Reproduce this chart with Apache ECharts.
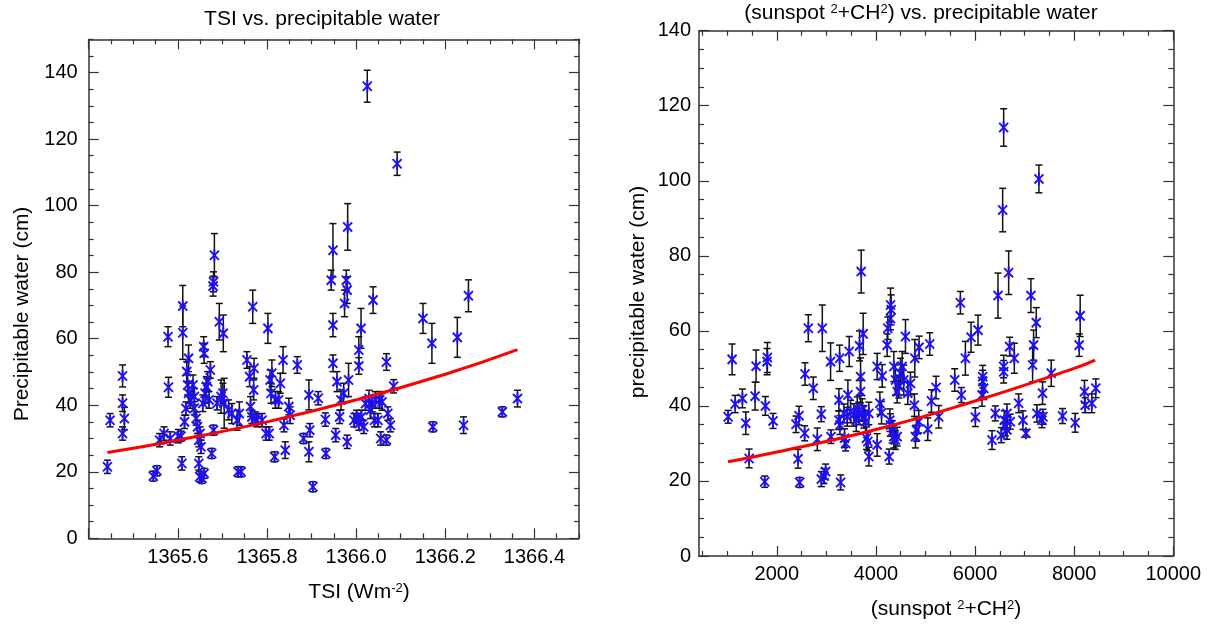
<!DOCTYPE html>
<html><head><meta charset="utf-8">
<script src="https://cdn.jsdelivr.net/npm/echarts@6/dist/echarts.min.js"></script>
<style>html,body{margin:0;padding:0;background:#fff}#c{width:1209px;height:626px}</style>
</head><body><div id="c"></div>
<script>
// ---------- data: [x, precipitable water, error half-length] ----------
const tsiPoints = [
[1365.442,21.5,2],[1365.448,35.5,2],[1365.476,48.8,3.3],[1365.476,40.6,2.5],[1365.480,36.0,3.4],[1365.476,31.5,2],
[1365.545,18.7,1.5],[1365.553,20.3,1.5],[1365.559,29.5,2],[1365.569,31.5,2],[1365.578,60.6,3],[1365.579,45.4,3],
[1365.583,30.0,2],[1365.601,30.7,2],[1365.607,30.7,1.5],[1365.609,22.5,2],[1365.611,69.8,6.2],[1365.611,61.8,8],
[1365.615,35.0,2],[1365.618,39.0,2],[1365.620,50.1,3],[1365.624,54.1,4],[1365.622,46.1,3],[1365.624,43.6,3],
[1365.628,41.6,2.5],[1365.634,46.1,3],[1365.637,42.6,2.5],[1365.637,39.1,2],[1365.641,36.0,2],[1365.644,33.5,2],
[1365.647,29.5,2],[1365.650,31.5,2],[1365.652,27.5,2],[1365.647,22.5,2],[1365.649,18.5,1.5],[1365.654,18.0,1.5],
[1365.659,19.5,1.5],[1365.658,57.6,3],[1365.659,55.6,3],[1365.656,40.6,2.5],[1365.661,43.6,3],[1365.664,45.6,3],
[1365.667,47.1,3],[1365.670,41.6,2.5],[1365.673,50.6,2.5],[1365.676,25.5,1.5],[1365.680,32.5,1.5],[1365.679,75.8,3],
[1365.682,85.1,6.5],[1365.680,77.1,3],[1365.688,40.6,2],[1365.693,65.1,5.5],[1365.697,42.6,5],[1365.701,43.6,3],
[1365.702,61.6,5.5],[1365.704,40.6,7.5],[1365.714,38.6,3],[1365.721,37.5,3],[1365.733,35.5,3],[1365.738,37.5,3.5],
[1365.735,20.0,1.5],[1365.742,20.0,1.5],[1365.755,53.6,2.5],[1365.761,48.6,3],[1365.763,39.6,3],[1365.766,36.5,2],
[1365.768,69.6,5],[1365.770,44.6,3],[1365.771,51.1,3],[1365.774,36.0,2],[1365.777,35.5,2],[1365.789,35.5,2],
[1365.798,31.5,2],[1365.802,63.1,4.5],[1365.805,31.5,2],[1365.807,47.6,3],[1365.809,43.6,3],[1365.811,49.6,4],
[1365.817,24.5,1.5],[1365.819,41.6,2.5],[1365.826,41.6,2.5],[1365.830,46.6,3],[1365.836,53.6,4],[1365.838,34.0,2],
[1365.841,26.5,2.5],[1365.849,39.6,2.5],[1365.852,37.0,2.5],[1365.868,52.1,2.5],[1365.882,30.0,1.5],[1365.894,43.1,4.5],
[1365.896,32.5,2],[1365.894,26.0,3],[1365.903,15.5,1.5],[1365.915,42.1,2],[1365.931,35.7,2],[1365.932,25.5,1.5],
[1365.948,86.6,8],[1365.944,77.6,3],[1365.948,64.1,3.5],[1365.948,52.6,2.5],[1365.954,31.0,2],[1365.957,47.1,3],
[1365.963,36.5,2],[1365.966,41.6,3],[1365.972,43.6,3],[1365.974,70.6,4],[1365.978,77.6,3],[1365.980,74.6,4],
[1365.981,93.6,7],[1365.980,29.0,2],[1365.983,47.6,5],
[1365.995,35.5,2],[1366.001,36.5,2],[1366.006,34.5,2],[1366.012,36.5,2],[1366.017,33.5,2],[1366.021,40.5,2],
[1366.029,42.0,2.5],[1366.032,38.5,2.5],[1366.036,40.5,2.5],[1366.041,35.5,2],[1366.043,41.6,2.5],[1366.049,35.5,2],
[1366.053,41.6,2.5],[1366.055,30.0,2],[1366.058,41.0,2.5],[1366.068,29.5,1.5],[1366.071,37.5,2],[1366.077,34.0,2],
[1366.011,63.1,6],[1366.006,56.6,4],[1366.006,51.8,2.5],[1366.025,135.9,4.8],[1366.038,71.6,4],[1366.068,53.0,2.5],
[1366.084,45.7,2],[1366.092,112.6,3.5],[1366.150,66.1,4.5],[1366.170,58.6,6],[1366.172,33.5,1.5],[1366.227,60.4,6],
[1366.241,34.0,2.5],[1366.252,72.9,4.8],[1366.328,38.0,1.5],[1366.362,42.0,2.5]
];
const tsiFit = [[1365.442,25.8],[1365.6,29.5],[1365.8,35.0],[1366.0,41.6],[1366.2,49.3],[1366.362,56.7]];

const ssqPoints = [
[1018,37.1,1.7],[1098,52.4,4.1],[1159,40.5,2.3],[1306,42.0,2.5],[1374,35.4,3],[1441,26.0,2.5],
[1562,42.6,3.7],[1582,50.6,4.3],[1756,19.8,1.5],[1770,40.0,2.5],[1810,52.9,4],[1803,51.8,3.5],
[1924,36.0,2],[2387,35.1,2.2],[2428,25.9,2.5],[2448,37.4,2.5],[2461,19.6,1.3],[2562,32.7,2],
[2569,48.5,3],[2636,60.7,3.6],[2736,44.7,3],[2817,31.1,3],[2898,37.8,2],[2898,20.5,2],
[2918,60.7,6.2],[2951,21.3,2],[2985,22.5,2],[3092,31.8,1.8],[3085,51.8,5],[3287,19.6,2],
[3267,52.7,3.5],[3253,41.6,3],[3253,36.2,2.5],[3273,34.9,2.5],[3367,31.4,2.5],[3388,30.0,2],
[3461,54.5,4],[3434,42.9,4],[3354,38.0,2.5],[3421,37.1,2.5],[3488,38.5,3],[3555,37.6,3],
[3602,36.2,3],[3623,39.4,3],[3656,38.0,3],[3723,38.9,3],[3757,37.1,3],[3790,35.8,3],
[3857,38.0,3],[3669,56.0,4],[3703,75.8,5.7],[3690,47.8,5],[3690,43.8,3],[3743,59.2,5.5],
[3810,31.4,3],[3837,30.5,2.5],[3857,26.5,2.5],[4025,29.6,3],[4025,50.5,3.5],[4126,48.0,3],
[4079,40.7,3],[4113,38.2,3],[4227,56.2,3],[4240,60.7,3],[4294,63.3,3],[4294,66.9,4.5],
[4307,65.6,4],[4267,26.5,2],[4280,36.2,3],[4294,34.9,3],[4327,33.1,3],[4361,31.8,3],
[4394,30.9,2.5],[4428,31.8,2.5],[4361,50.5,4],[4394,46.9,4],[4428,43.8,3],[4462,45.1,3],
[4495,48.7,4],[4529,50.5,4],[4562,46.9,4],[4596,58.5,4.5],[4643,43.4,3],[4697,46.0,3],
[4777,40.2,3],[4784,52.7,5],[4797,31.8,3],[4817,33.6,3],[4871,55.6,3],[4864,35.8,3],
[5046,33.8,3],[5086,56.5,3],[5120,41.3,3],[5213,44.9,3],[5267,37.1,3],
[5590,46.9,3],[5724,42.9,2],[5704,67.5,3],[5805,52.7,4.5],[5919,58.3,4],[6006,37.0,2.5],
[6060,60.2,4],[6141,42.9,3],[6154,46.5,3],[6154,47.8,3],[6174,44.7,3],[6342,30.9,2.5],
[6409,38.0,2],[6463,69.4,6],[6530,32.2,2],[6557,92.2,5.8],[6577,114.2,5],[6577,50.5,3],
[6577,49.1,3],[6590,36.2,2.5],[6611,34.5,2.5],[6644,38.0,2.5],[6644,33.6,2.5],[6678,75.5,5.8],
[6698,55.8,2.5],[6792,52.7,4],[6711,35.8,2],[6879,40.7,2.5],[6966,36.2,2.5],[7027,32.7,1],
[7127,69.4,4.5],[7161,50.9,4.5],[7181,56.2,4],[7235,62.2,4],[7248,38.0,2.3],[7289,100.5,3.7],
[7349,36.2,2],[7369,37.1,2],[7362,43.4,3],[7537,48.7,3.5],[7765,37.3,2],[8020,35.5,2.5],
[8121,64.0,5.5],[8101,56.2,3],[8208,43.8,3],[8222,40.2,2],[8356,40.7,2.5],[8436,44.7,2.5]
];
const ssqFit = [[1016,25.1],[2000,27.7],[4000,33.7],[6000,41.3],[8000,50.0],[8423,52.2]];

// ---------- ticks ----------
const tsiXLabels = [1365.6,1365.8,1366.0,1366.2,1366.4];
const tsiXMajor = [1365.4,1365.6,1365.8,1366.0,1366.2,1366.4];
const pwLabels = [0,20,40,60,80,100,120,140];
const ssqXLabels = [2000,4000,6000,8000,10000];

function steps(from, to, step, skipEvery) {
  const out = [];
  for (let i = 0; ; i++) {
    const v = +(from + i * step).toFixed(4);
    if (v > to + 1e-9) break;
    if (skipEvery && i % skipEvery === 0) continue;
    out.push(v);
  }
  return out;
}
const tsiXMinor = steps(1365.4, 1366.5, 0.05, 4);
const leftYMinor = steps(0, 150, 5, 4);
const rightYMinor = steps(0, 140, 5, 4);
const ssqXMinor = steps(0, 10000, 500, 4).filter(v => v > 430);

const FONT = '"Liberation Sans", Arial, Helvetica, sans-serif';
const AX = '#333';

function axisSet(dim, grid, min, max, labels, majors, minors, fmt, margin) {
  const isX = dim === 'x';
  const posA = isX ? 'bottom' : 'left', posB = isX ? 'top' : 'right';
  const base = {type: 'value', gridIndex: grid, min: min, max: max, splitLine: {show: false}};
  const line = {show: true, onZero: false, lineStyle: {color: AX, width: 1.5}};
  const noLine = {show: false, onZero: false};
  const tick = (vals, len) => ({show: true, inside: true, length: len, customValues: vals, lineStyle: {color: AX, width: 1.2}});
  return [
    Object.assign({}, base, {position: posA, axisLine: line, axisTick: tick(majors, 10),
      axisLabel: {show: true, customValues: labels, margin: margin, fontSize: 20, fontFamily: FONT, color: '#000', formatter: fmt}}),
    Object.assign({}, base, {position: posA, axisLine: noLine, axisTick: tick(minors, 5), axisLabel: {show: false}}),
    Object.assign({}, base, {position: posB, axisLine: line, axisTick: tick(majors, 10), axisLabel: {show: false}}),
    Object.assign({}, base, {position: posB, axisLine: noLine, axisTick: tick(minors, 5), axisLabel: {show: false}})
  ];
}

function errItem(params, api) {
  const x = api.value(0), lo = api.value(1), hi = api.value(2);
  const a = api.coord([x, hi]), b = api.coord([x, lo]);
  const w = 3.5, st = {stroke: '#111', lineWidth: 1.5};
  return {type: 'group', children: [
    {type: 'line', shape: {x1: a[0], y1: a[1], x2: b[0], y2: b[1]}, style: st},
    {type: 'line', shape: {x1: a[0] - w, y1: a[1], x2: a[0] + w, y2: a[1]}, style: st},
    {type: 'line', shape: {x1: b[0] - w, y1: b[1], x2: b[0] + w, y2: b[1]}, style: st}
  ]};
}
function starItem(params, api) {
  const c = api.coord([api.value(0), api.value(1)]);
  const st = {stroke: '#1f10ee', lineWidth: 1.9};
  const h = 6, dx = 4.5, dy = 4.6;
  const L = (x1, y1, x2, y2) => ({type: 'line', shape: {x1, y1, x2, y2}, style: st});
  return {type: 'group', children: [
    L(c[0], c[1] - h, c[0], c[1] + h),
    L(c[0] - dx, c[1] - dy, c[0] + dx, c[1] + dy),
    L(c[0] - dx, c[1] + dy, c[0] + dx, c[1] - dy)
  ]};
}
function panelSeries(points, fit, xi, yi) {
  return [
    {type: 'custom', xAxisIndex: xi, yAxisIndex: yi, renderItem: errItem, z: 2,
     data: points.map(p => [p[0], p[1] - p[2], p[1] + p[2]])},
    {type: 'custom', xAxisIndex: xi, yAxisIndex: yi, renderItem: starItem, z: 3,
     data: points.map(p => [p[0], p[1]])},
    {type: 'line', xAxisIndex: xi, yAxisIndex: yi, data: fit, smooth: true, showSymbol: false, symbol: 'none', z: 4,
     lineStyle: {color: '#ff0000', width: 3}}
  ];
}

const txt = (x, y, text, extra) => ({type: 'text', x: x, y: y, z: 10,
  style: Object.assign({text: text, fontSize: 21, fontFamily: FONT, fill: '#000', align: 'center', verticalAlign: 'middle',
    rich: {sup: {fontSize: 13, fontFamily: FONT, fill: '#000', verticalAlign: 'top'}}}, extra || {})});

const option = {
  animation: false,
  backgroundColor: '#fff',
  grid: [
    {left: 88.7, top: 39.3, width: 490.3, height: 499, outerBoundsMode: 'none', containLabel: false},
    {left: 699, top: 30.7, width: 474.3, height: 525.3, outerBoundsMode: 'none', containLabel: false}
  ],
  xAxis: [].concat(
    axisSet('x', 0, 1365.4, 1366.5, tsiXLabels, tsiXMajor, tsiXMinor, v => v.toFixed(1), 9),
    axisSet('x', 1, 430, 10000, ssqXLabels, ssqXLabels, ssqXMinor, v => String(Math.round(v)), 8)
  ),
  yAxis: [].concat(
    axisSet('y', 0, 0, 150, pwLabels, pwLabels, leftYMinor, v => String(Math.round(v)), 11),
    axisSet('y', 1, 0, 140, pwLabels, pwLabels, rightYMinor, v => String(Math.round(v)), 8)
  ),
  series: [].concat(panelSeries(tsiPoints, tsiFit, 0, 0), panelSeries(ssqPoints, ssqFit, 4, 4)),
  graphic: [
    txt(322, 19, 'TSI vs. precipitable water'),
    txt(921, 13, '(sunspot {sup|2}+CH{sup|2}) vs. precipitable water'),
    txt(359, 592, 'TSI (Wm{sup|-2})'),
    txt(946, 609, '(sunspot {sup|2}+CH{sup|2})'),
    Object.assign(txt(22, 314, 'Precipitable water (cm)'), {rotation: Math.PI / 2}),
    Object.assign(txt(638, 292, 'precipitable water (cm)'), {rotation: Math.PI / 2})
  ]
};
const chart = echarts.init(document.getElementById('c'), null, {renderer: 'canvas'});
chart.setOption(option);
</script></body></html>
